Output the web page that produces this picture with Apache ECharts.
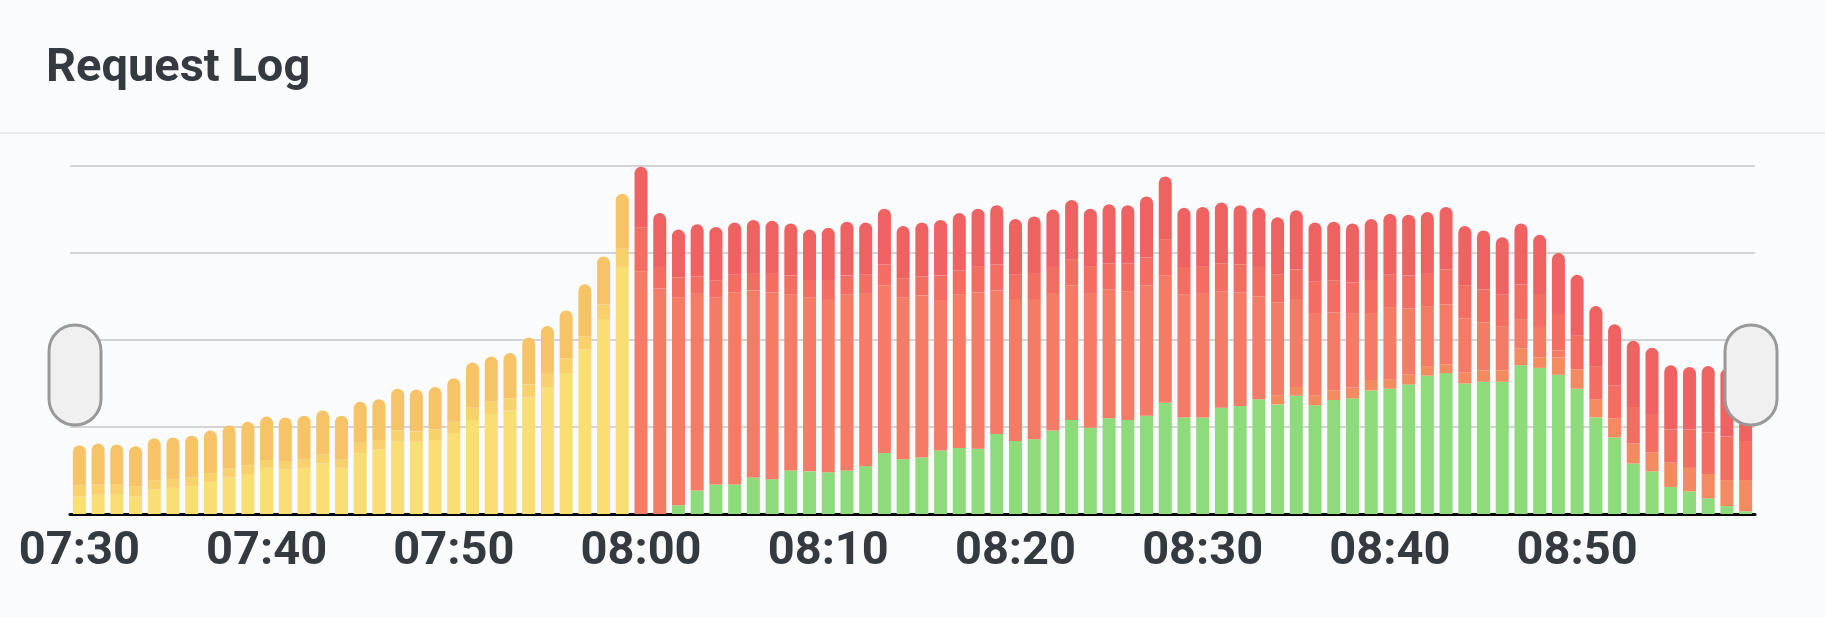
<!DOCTYPE html>
<html>
<head>
<meta charset="utf-8">
<script src="https://cdn.jsdelivr.net/npm/echarts@6/dist/echarts.min.js"></script>
<style>
html,body{margin:0;padding:0;background:#fafbfc;}
#c{width:1825px;height:617px;}
</style>
</head>
<body>
<div id="c"></div>
<script>
const categories = [
'07:30','07:31','07:32','07:33','07:34','07:35','07:36','07:37','07:38','07:39',
'07:40','07:41','07:42','07:43','07:44','07:45','07:46','07:47','07:48','07:49',
'07:50','07:51','07:52','07:53','07:54','07:55','07:56','07:57','07:58','07:59',
'08:00','08:01','08:02','08:03','08:04','08:05','08:06','08:07','08:08','08:09',
'08:10','08:11','08:12','08:13','08:14','08:15','08:16','08:17','08:18','08:19',
'08:20','08:21','08:22','08:23','08:24','08:25','08:26','08:27','08:28','08:29',
'08:30','08:31','08:32','08:33','08:34','08:35','08:36','08:37','08:38','08:39',
'08:40','08:41','08:42','08:43','08:44','08:45','08:46','08:47','08:48','08:49',
'08:50','08:51','08:52','08:53','08:54','08:55','08:56','08:57','08:58','08:59'];
const tickLabels = ['07:30','07:40','07:50','08:00','08:10','08:20','08:30','08:40','08:50'];

// 07:30 - 07:59 (pre-opening requests)
const queued  = [20,22,22,20,28,30,32,37,42,46,53,51,53,58,53,70,74,84,83,85,93,108,115,119,134,146,162,189,224,284];
const slow    = [13,12,12,12,11,10,10,10,10,10,9,10,10,10,10,12,11,12,12,12,13,14,14,14,15,16,17,15,17,21];
const pending = [46,47,46,46,48,48,48,49,50,50,50,50,50,51,50,47,47,48,48,49,50,52,52,52,54,54,55,60,55,63];

// 08:00 - 08:59
const ok      = [0,0,10,27,34,34,42,40,50,49,48,50,55,70,63,65,73,76,75,92,84,86,96,108,99,110,108,113,128,111,
                 111,122,124,132,126,136,125,131,133,142,144,149,159,162,150,152,152,171,168,160,144,111,88,58,49,31,26,18,9,3];
const warn    = [0,0,0,0,0,0,0,0,0,0,0,0,0,0,0,0,0,0,0,0,0,0,0,0,0,0,0,0,0,0,
                 0,0,0,0,10,10,11,11,12,12,11,11,11,10,13,13,13,19,12,20,22,21,22,23,22,28,27,28,30,36];
const errors  = [279,259,239,226,215,221,215,215,202,200,199,202,198,193,186,186,173,176,180,165,163,161,158,155,154,148,148,150,146,141,
                 142,134,131,118,107,101,95,90,85,77,82,76,69,69,62,55,51,34,35,8,0,0,0,0,0,0,0,0,0,0];
const timeout = [50,25,23,20,19,20,20,22,22,20,22,22,22,24,22,22,28,28,30,30,28,30,30,30,32,30,32,32,42,32,
                 32,32,32,34,32,34,36,36,36,38,38,38,38,40,38,38,36,40,38,42,39,38,38,42,44,38,44,48,50,45];
const fatal   = [70,62,55,60,62,60,61,60,60,58,60,62,60,64,60,62,64,66,66,68,64,65,66,68,66,68,67,70,72,68,
                 68,70,68,68,66,68,68,68,68,70,70,70,70,72,68,68,66,70,68,70,70,69,70,76,76,74,72,76,78,76];

const pad = n => Array(n).fill('-');
const pre = arr => arr.concat(pad(60));
const post = arr => pad(30).concat(arr);

function bar(name, data, color, top) {
  return {
    name, type: 'bar', stack: 'total', data,
    barWidth: 13,
    itemStyle: { color, borderRadius: top ? [7,7,0,0] : 0 },
    emphasis: { disabled: true },
    animation: false
  };
}

const chart = echarts.init(document.getElementById('c'), null, { renderer: 'canvas' });
chart.setOption({
  backgroundColor: '#fafbfc',
  animation: false,
  title: {
    text: 'Request Log', left: 41, top: 41,
    textStyle: { fontFamily: 'Roboto', fontWeight: 'bold', fontSize: 47, color: '#343a40' }
  },
  graphic: [{
    type: 'line', shape: { x1: 0, y1: 133, x2: 1825, y2: 133 },
    style: { stroke: '#e3e5e8', lineWidth: 1.5 }, silent: true
  }],
  grid: { left: 70, right: 70, top: 166, bottom: 103 },
  xAxis: {
    type: 'category', data: categories,
    axisTick: { show: false },
    axisLine: { lineStyle: { color: '#000', width: 3 } },
    axisLabel: {
      interval: 9, margin: 15,
      formatter: v => tickLabels.includes(v) ? v : '',
      fontFamily: 'Roboto', fontWeight: 'bold', fontSize: 47, color: '#343a40'
    }
  },
  yAxis: {
    type: 'value', min: 0, max: 400, interval: 100,
    axisLabel: { show: false }, axisLine: { show: false }, axisTick: { show: false },
    splitLine: { lineStyle: { color: '#d4d4d4', width: 2 } }
  },
  dataZoom: [{
    type: 'slider', xAxisIndex: 0, start: 0, end: 100, filterMode: 'none',
    left: 72, right: 75, top: 325, height: 100,
    showDetail: false, showDataShadow: false, brushSelect: false,
    moveHandleSize: 0,
    backgroundColor: 'rgba(0,0,0,0)', borderColor: 'rgba(0,0,0,0)', fillerColor: 'rgba(0,0,0,0)',
    dataBackground: { lineStyle: { opacity: 0 }, areaStyle: { opacity: 0 } },
    selectedDataBackground: { lineStyle: { opacity: 0 }, areaStyle: { opacity: 0 } },
    handleIcon: 'path://M0,26 A26,26 0 0 1 52,26 L52,74 A26,26 0 0 1 0,74 Z',
    handleSize: '100%',
    handleStyle: { color: '#f0f0f0', borderColor: '#999999', borderWidth: 3 },
    emphasis: { handleStyle: { color: '#f0f0f0', borderColor: '#999999', borderWidth: 3 } }
  }],
  series: [
    bar('queued', pre(queued), '#f8de73', false),
    bar('slow', pre(slow), '#f8d16d', false),
    bar('pending', pre(pending), '#f6c367', true),
    bar('2xx', post(ok), '#8ddb7b', false),
    bar('3xx', post(warn), '#f38a60', false),
    bar('4xx', post(errors), '#f47b65', false),
    bar('timeout', post(timeout), '#f26e63', false),
    bar('5xx', post(fatal), '#ef6262', true)
  ]
});
</script>
</body>
</html>
